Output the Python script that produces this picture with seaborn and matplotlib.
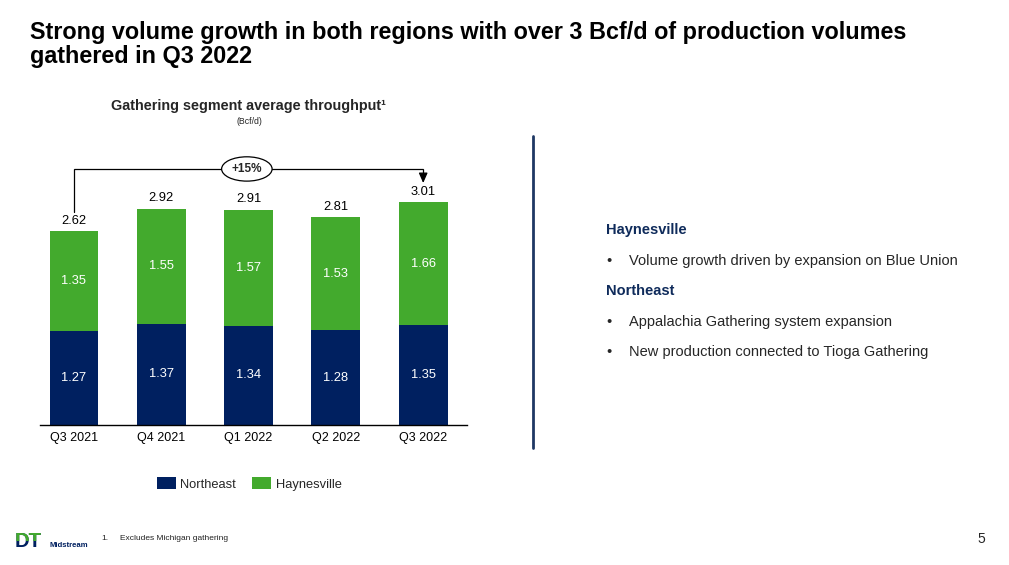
import matplotlib
matplotlib.use("Agg")
import matplotlib.pyplot as plt
import seaborn as sns
import pandas as pd
from matplotlib.patches import Rectangle, Patch
from matplotlib.lines import Line2D

quarters = ["Q3 2021", "Q4 2021", "Q1 2022", "Q2 2022", "Q3 2022"]
northeast = [1.27, 1.37, 1.34, 1.28, 1.35]
haynesville = [1.35, 1.55, 1.57, 1.53, 1.66]
totals = [2.62, 2.92, 2.91, 2.81, 3.01]
growth_label = "+15%"

NAVY = "#002060"
GREEN = "#43AA2D"

sns.set_theme(style="white")
plt.rcParams["font.family"] = ["Liberation Sans", "DejaVu Sans"]

W, H = 1009, 565
fig = plt.figure(figsize=(W / 100, H / 100), dpi=100)

def fx(px):
    return px / W

def fy(py):
    return 1 - py / H

# Title
fig.text(fx(30), fy(33), "Strong volume growth in both regions with over 3 Bcf/d of production volumes",
         fontsize=16.8, fontweight="bold", color="black", va="center", ha="left")
fig.text(fx(30), fy(57), "gathered in Q3 2022",
         fontsize=16.8, fontweight="bold", color="black", va="center", ha="left")

# Chart subtitle
fig.text(fx(248), fy(106), "Gathering segment average throughput\u00b9", fontsize=10.4,
         fontweight="bold", ha="center", va="center")
fig.text(fx(249), fy(121), "(Bcf/d)", fontsize=6.3, ha="center", va="center")

ax = fig.add_axes([fx(30.35), fy(425), fx(436.5), (425 - 158.6) / H])
df = pd.DataFrame({"quarter": quarters, "northeast": northeast,
                   "haynesville": haynesville, "total": totals})

sns.barplot(data=df, x="quarter", y="total", color=GREEN, saturation=1,
            width=0.56, linewidth=0, ax=ax)
sns.barplot(data=df, x="quarter", y="northeast", color=NAVY, saturation=1,
            width=0.56, linewidth=0, ax=ax)

ax.set_xlim(-0.5, 4.5)
ax.set_ylim(0, 3.6)
ax.set_xlabel("")
ax.set_ylabel("")
ax.set_yticks([])
for s in ["top", "right", "left"]:
    ax.spines[s].set_visible(False)
ax.spines["bottom"].set_color("black")
ax.spines["bottom"].set_linewidth(1)
ax.spines["bottom"].set_bounds(-0.39, 4.5)
ax.tick_params(axis="x", length=0, pad=5, labelsize=9.0, colors="black")

for i, (ne, hv, tot) in enumerate(zip(northeast, haynesville, totals)):
    ax.text(i, ne / 2, f"{ne:.2f}", ha="center", va="center", color="white", fontsize=9.3)
    ax.text(i, ne + hv / 2, f"{hv:.2f}", ha="center", va="center", color="white", fontsize=9.3)
    ax.text(i, tot + 0.06, f"{tot:.2f}", ha="center", va="bottom", color="black", fontsize=9.3)

# Growth bracket
y_top = 3.46
ax.plot([0, 0, 4, 4], [2.88, y_top, y_top, 3.33], color="black", lw=0.9,
        clip_on=False, solid_joinstyle="miter")
ax.annotate("", xy=(4, 3.27), xytext=(4, 3.36),
            arrowprops=dict(arrowstyle="-|>,head_length=0.5,head_width=0.22",
                            color="black", lw=0.9, shrinkA=0, shrinkB=0),
            annotation_clip=False)
ax.text(1.98, y_top, growth_label, ha="center", va="center", fontsize=8.5,
        fontweight="bold", zorder=5,
        bbox=dict(boxstyle="ellipse,pad=0.22", fc="white", ec="black", lw=0.9))

# Legend
handles = [Patch(facecolor=NAVY, edgecolor="none", label="Northeast"),
           Patch(facecolor=GREEN, edgecolor="none", label="Haynesville")]
fig.legend(handles=handles, loc="center", bbox_to_anchor=(fx(249), fy(484)),
           ncol=2, frameon=False, fontsize=9.3, handlelength=1.5, handleheight=1.0,
           handletextpad=0.35, columnspacing=1.2)

# Separator
fig.add_artist(Line2D([fx(533), fx(533)], [fy(136), fy(448)], color="#1F3864", lw=2))

# Right side text
fig.text(fx(606), fy(230), "Haynesville", fontsize=10.5, fontweight="bold",
         color="#0F2B5B", va="center", ha="left")
fig.text(fx(606), fy(261), "\u2022", fontsize=10.5, va="center", ha="left")
fig.text(fx(629), fy(261), "Volume growth driven by expansion on Blue Union",
         fontsize=10.5, va="center", ha="left")
fig.text(fx(606), fy(291), "Northeast", fontsize=10.5, fontweight="bold",
         color="#0F2B5B", va="center", ha="left")
fig.text(fx(606), fy(322), "\u2022", fontsize=10.5, va="center", ha="left")
fig.text(fx(629), fy(322), "Appalachia Gathering system expansion",
         fontsize=10.5, va="center", ha="left")
fig.text(fx(606), fy(352), "\u2022", fontsize=10.5, va="center", ha="left")
fig.text(fx(629), fy(352), "New production connected to Tioga Gathering",
         fontsize=10.5, va="center", ha="left")

# Footnote and page number
fig.text(fx(101), fy(539), "1.", fontsize=6, va="center", ha="left", color="#222222")
fig.text(fx(120), fy(539), "Excludes Michigan gathering", fontsize=6, va="center",
         ha="left", color="#222222")
fig.text(fx(985), fy(539), "5", fontsize=10, va="center", ha="right")

# Logo
fig.text(fx(15), fy(547), "DT", fontsize=14.5, fontweight="heavy", color=NAVY,
         va="baseline", ha="left")
t2 = fig.text(fx(15), fy(547), "DT", fontsize=14.5, fontweight="heavy", color=GREEN,
              va="baseline", ha="left")
clip = Rectangle((0, fy(541)), 0.1, 0.05, transform=fig.transFigure)
t2.set_clip_path(clip)
fig.text(fx(50), fy(547), "Midstream", fontsize=5.6, fontweight="bold", color=NAVY,
         va="baseline", ha="left")

fig.savefig("out.png", dpi=100)
